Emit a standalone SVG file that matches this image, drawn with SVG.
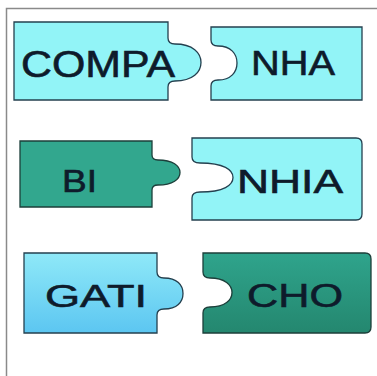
<svg xmlns="http://www.w3.org/2000/svg" width="377" height="376" viewBox="0 0 377 376">
  <defs>
    <linearGradient id="gBlue" x1="0" y1="0" x2="0" y2="1">
      <stop offset="0" stop-color="#8fe9f8"/>
      <stop offset="1" stop-color="#5cc6f1"/>
    </linearGradient>
    <linearGradient id="gTeal" x1="0" y1="0" x2="0" y2="1">
      <stop offset="0" stop-color="#2fa48c"/>
      <stop offset="1" stop-color="#24876f"/>
    </linearGradient>
    <style>
      .cyan { fill: #92f4f7; stroke: #24404f; stroke-width: 1.3; }
      .teal { fill: #32a78e; stroke: #1c3f3a; stroke-width: 1.3; }
      .blue { fill: url(#gBlue); stroke: #24404f; stroke-width: 1.3; }
      .dteal { fill: url(#gTeal); stroke: #1c3f3a; stroke-width: 1.3; }
      .lbl { font-family: "Liberation Sans", Arial, sans-serif; fill: #0e1b2b; stroke: #0e1b2b; stroke-width: 0.6; }
      .frame { stroke: #8a8a8a; stroke-width: 1.5; fill: none; }
    </style>
  </defs>
  <rect width="377" height="376" fill="#ffffff"/>
  <path class="frame" d="M6.5,376 V8.5 H377"/>

  <g id="compa">
    <path class="cyan" d="M14,22 H168 V38 Q168,44 175,44 C193,44 201,53 201,62.5 C201,72 193,81 175,81 Q168,81 168,87 V100 H14 Z"/>
    <text class="lbl" x="21" y="77" font-size="36" textLength="154" lengthAdjust="spacingAndGlyphs">COMPA</text>
  </g>
  <g id="nha">
    <path class="cyan" d="M211,27 H362 V100 H211 V86 Q211,80 218,80 C231,80 237,72 237,63 C237,54 231,46 218,46 Q211,46 211,40 Z"/>
    <text class="lbl" x="251" y="75" font-size="35" textLength="84" lengthAdjust="spacingAndGlyphs">NHA</text>
  </g>

  <g id="bi">
    <path class="teal" d="M20,141 H152 V155 Q152,160 158,160 C173,160 180,166 180,172.5 C180,179 173,185 158,185 Q152,185 152,190 V207 H20 Z"/>
    <text class="lbl" x="62" y="192" font-size="31" textLength="35" lengthAdjust="spacingAndGlyphs">BI</text>
  </g>
  <g id="nhia">
    <path class="cyan" d="M192,138 H356 Q362,138 362,144 V214 Q362,220 356,220 H192 V198 Q192,192 200,192 C224,192 233,185 233,177.5 C233,170 224,163 200,163 Q192,163 192,157 Z"/>
    <text class="lbl" x="237" y="193" font-size="33" textLength="106" lengthAdjust="spacingAndGlyphs">NHIA</text>
  </g>

  <g id="gati">
    <path class="blue" d="M24,253 H157 V272 Q157,278 164,278 C177,278 183,285 183,293.5 C183,302 177,309 164,309 Q157,309 157,315 V333 H24 Z"/>
    <text class="lbl" x="45" y="307" font-size="32" textLength="102" lengthAdjust="spacingAndGlyphs">GATI</text>
  </g>
  <g id="cho">
    <path class="dteal" d="M203,253 H365 Q371,253 371,259 V327 Q371,333 365,333 H203 V313 Q203,307 210,307 C225,307 232,300 232,292.5 C232,285 225,278 210,278 Q203,278 203,272 Z"/>
    <text class="lbl" x="247" y="307" font-size="33" textLength="96" lengthAdjust="spacingAndGlyphs">CHO</text>
  </g>
</svg>
